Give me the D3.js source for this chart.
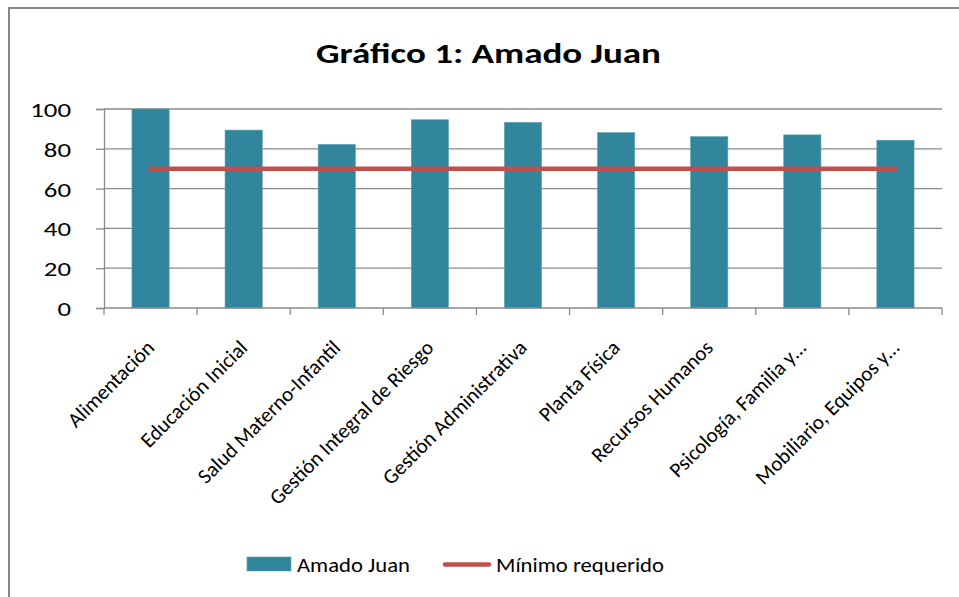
<!DOCTYPE html>
<html>
<head>
<meta charset="utf-8">
<script src="https://cdn.jsdelivr.net/npm/d3@7"></script>
<style>
  body { margin: 0; background: #fff; }
  text { font-family: Carlito, Lato, "Open Sans", sans-serif; fill: #000; }
</style>
</head>
<body>
<script>
// data
var categories = ["Alimentación", "Educación Inicial", "Salud Materno-Infantil",
  "Gestión Integral de Riesgo", "Gestión Administrativa", "Planta Física",
  "Recursos  Humanos", "Psicología, Familia y…", "Mobiliario, Equipos y…"];
var amadoJuan = [100, 89.4, 82.2, 94.6, 93.3, 88.1, 86.1, 87.0, 84.3];
var minimo = [70, 70, 70, 70, 70, 70, 70, 70, 70];
var yTicks = [0, 20, 40, 60, 80, 100];
var seriesNames = ["Amado Juan", "Mínimo requerido"];

var width = 959, height = 597;
var margin = {top: 109, left: 104, right: 17, bottom: 289};

var svg = d3.select("body").append("svg")
    .attr("width", width)
    .attr("height", height);

// chart frame
svg.append("rect")
    .attr("x", 9).attr("y", 8)
    .attr("width", 970).attr("height", 620)
    .attr("fill", "#fff")
    .attr("stroke", "#878787")
    .attr("stroke-width", 2);

//title (stretched a bit wider, like the original)
svg.append("text")
    .attr("x", 316).attr("y", 63)
    .attr("textLength", 345)
    .attr("lengthAdjust", "spacingAndGlyphs")
    .style("font-size", "28px")
    .style("font-weight", "bold")
    .text("Gráfico 1: Amado Juan");

var x = d3.scaleBand()
    .domain(categories)
    .range([margin.left, width - margin.right]);

var y = d3.scaleLinear()
    .domain([0, 100])
    .range([height - margin.bottom, margin.top]);

var g = svg.append("g");

// gridlines
g.selectAll(".grid")
    .data(yTicks.filter(function(d){ return d > 0; }))
    .enter().append("line")
    .attr("x1", margin.left).attr("x2", width - margin.right)
    .attr("y1", function(d){ return y(d); })
    .attr("y2", function(d){ return y(d); })
    .attr("stroke", "#8a8a8a")
    .attr("stroke-width", 1.3);

// bars
var barW = x.bandwidth() * 0.4;
g.selectAll(".bar")
    .data(amadoJuan)
    .enter().append("rect")
    .attr("class", "bar")
    .attr("x", function(d, i){ return x(categories[i]) + x.bandwidth()/2 - barW/2; })
    .attr("y", function(d){ return y(d); })
    .attr("width", barW)
    .attr("height", function(d){ return y(0) - y(d); })
    .attr("fill", "#31859c")
    .attr("stroke", "#5fa3b5")
    .attr("stroke-width", 0.6);

// y axis
var yAxis = g.append("g")
    .attr("transform", "translate(" + margin.left + ",0)")
    .call(d3.axisLeft(y).tickValues(yTicks).tickSize(8).tickPadding(25));
yAxis.selectAll("line").attr("stroke", "#8a8a8a").attr("stroke-width", 1.3);
yAxis.select(".domain").attr("stroke", "#8a8a8a").attr("stroke-width", 1.3);
yAxis.selectAll("text")
    .style("font-size", "21px")
    .style("font-family", "Carlito, Lato, sans-serif")
    .attr("dy", "0.36em")
    .attr("textLength", function(d){ return String(d).length * 13.6; })
    .attr("lengthAdjust", "spacingAndGlyphs");

// x axis, ticks between categories
var xAxis = g.append("g")
    .attr("transform", "translate(0," + y(0) + ")");
xAxis.append("line")
    .attr("x1", margin.left).attr("x2", width - margin.right)
    .attr("stroke", "#8a8a8a").attr("stroke-width", 1.3);
var bounds = categories.map(function(c){ return x(c); }).concat([width - margin.right]);
xAxis.selectAll(".tk")
    .data(bounds)
    .enter().append("line")
    .attr("x1", function(d){ return d; }).attr("x2", function(d){ return d; })
    .attr("y1", 0).attr("y2", 7)
    .attr("stroke", "#8a8a8a").attr("stroke-width", 1.3);

xAxis.selectAll(".lbl")
    .data(categories)
    .enter().append("text")
    .attr("text-anchor", "end")
    .attr("transform", function(d){
      return "translate(" + (x(d) + x.bandwidth()/2 + 5) + ",41) rotate(-45)";
    })
    .style("font-size", "21px")
    .text(function(d){ return d; });

// minimum line
var line = d3.line()
    .x(function(d, i){ return x(categories[i]) + x.bandwidth()/2; })
    .y(function(d){ return y(d); });
g.append("path")
    .datum(minimo)
    .attr("d", line)
    .attr("fill", "none")
    .attr("stroke", "#c0504d")
    .attr("stroke-width", 4.5)
    .attr("stroke-linecap", "round");

// legend
var leg = svg.append("g");
leg.append("rect")
    .attr("x", 247).attr("y", 557)
    .attr("width", 44).attr("height", 14)
    .attr("fill", "#31859c")
    .attr("stroke", "#5fa3b5").attr("stroke-width", 0.6);
leg.append("text")
    .attr("x", 297).attr("y", 572)
    .attr("textLength", 113)
    .attr("lengthAdjust", "spacingAndGlyphs")
    .style("font-size", "21px")
    .text(seriesNames[0]);
leg.append("line")
    .attr("x1", 445).attr("x2", 489)
    .attr("y1", 564.5).attr("y2", 564.5)
    .attr("stroke", "#c0504d").attr("stroke-width", 4.5)
    .attr("stroke-linecap", "round");
leg.append("text")
    .attr("x", 496).attr("y", 572)
    .attr("textLength", 168)
    .attr("lengthAdjust", "spacingAndGlyphs")
    .style("font-size", "21px")
    .text(seriesNames[1]);
</script>
</body>
</html>
